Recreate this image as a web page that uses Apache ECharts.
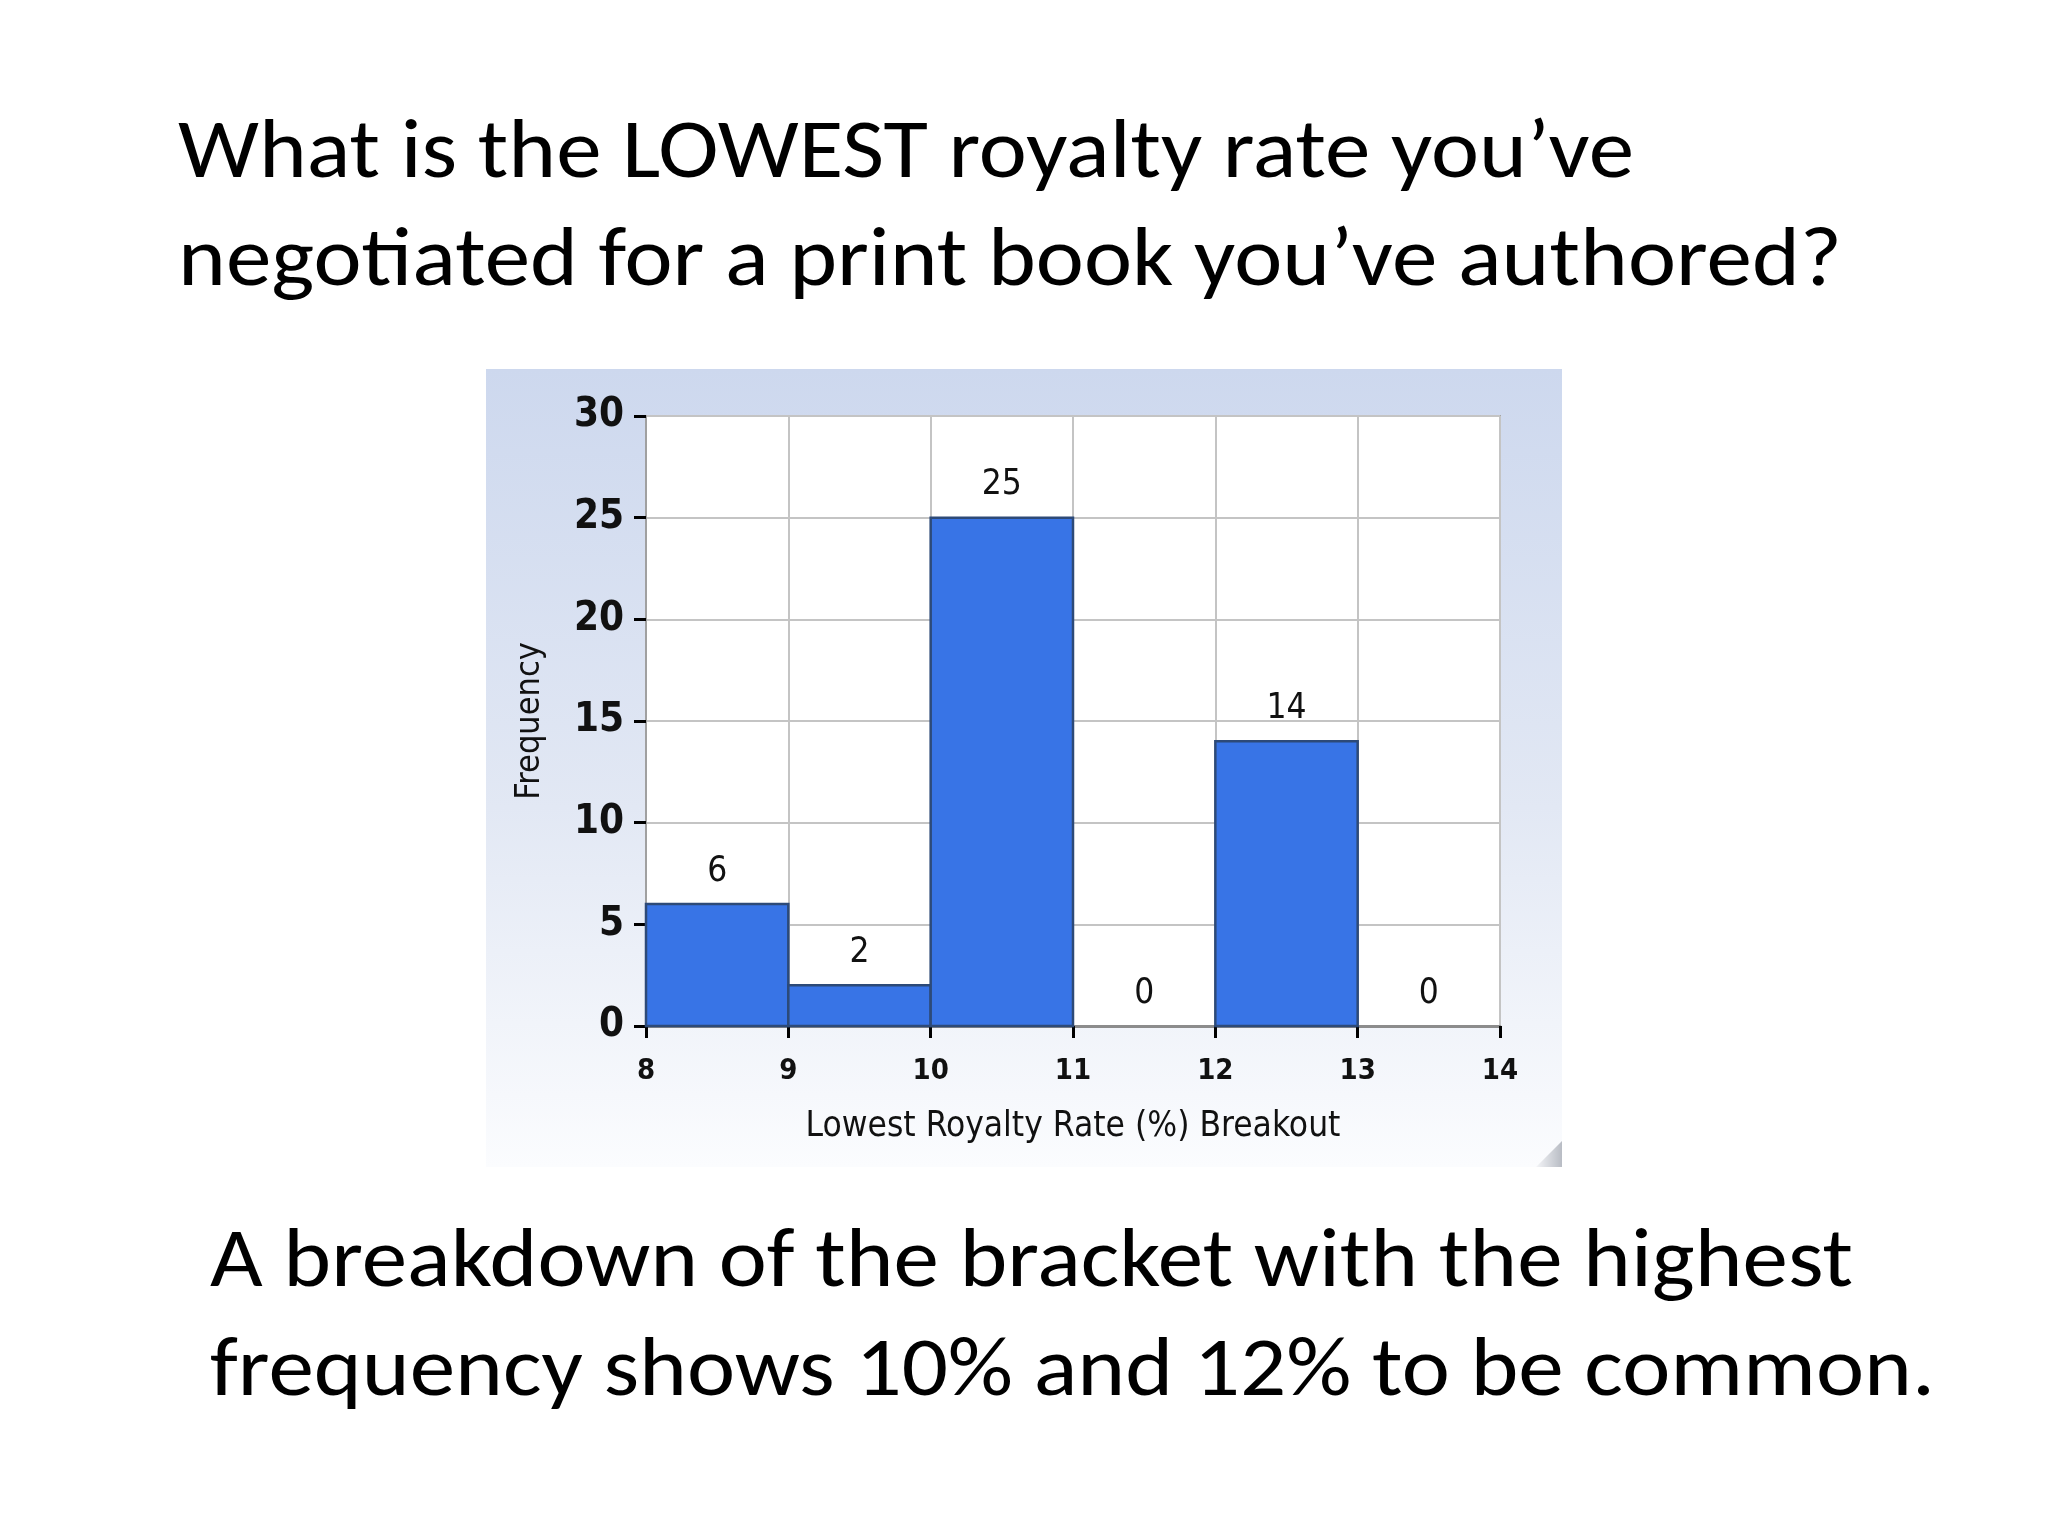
<!DOCTYPE html>
<html>
<head>
<meta charset="utf-8">
<script src="https://cdn.jsdelivr.net/npm/echarts@6/dist/echarts.min.js"></script>
<style>
html,body{margin:0;padding:0;background:#fff;}
#chart{width:2048px;height:1536px;}
</style>
</head>
<body>
<div id="chart"></div>
<script>
// ---- data ----
const titleLines = ["What is the LOWEST royalty rate you\u2019ve", "negotiated for a print book you\u2019ve authored?"];
const captionLines = ["A breakdown of the bracket with the highest", "frequency shows 10% and 12% to be common."];
const binStarts = [8, 9, 10, 11, 12, 13];
const binEnds = [9, 10, 11, 12, 13, 14];
const frequencies = [6, 2, 25, 0, 14, 0];
const xAxisName = "Lowest Royalty Rate (%) Breakout";
const yAxisName = "Frequency";

// ---- style ----
const slideFont = "Carlito, Lato, 'Open Sans', sans-serif";
const narrowFont = "'Liberation Sans Narrow', 'Arial Narrow', 'DejaVu Sans Condensed', sans-serif";
const slideSize = 84;

function fitScale(text, targetWidth) {
  const c = document.createElement('canvas').getContext('2d');
  c.font = slideSize + 'px ' + slideFont;
  const w = c.measureText(text).width;
  return w > 0 ? targetWidth / w : 1;
}

function slideText(text, x, baseline, targetWidth) {
  const s = fitScale(text, targetWidth);
  return {
    type: 'text', x: x, y: baseline, scaleX: s, z: 10,
    style: { text: text, font: slideSize + 'px ' + slideFont, fill: '#000', textAlign: 'left', textVerticalAlign: 'bottom' }
  };
}

const chart = echarts.init(document.getElementById('chart'), null, {renderer: 'canvas'});

const seriesData = binStarts.map((s, i) => [s, binEnds[i], frequencies[i]]);

const option = {
  backgroundColor: '#ffffff',
  animation: false,
  graphic: [
    {
      type: 'rect', z: -10, silent: true,
      shape: { x: 486, y: 369, width: 1076, height: 798 },
      style: { fill: new echarts.graphic.LinearGradient(0, 0, 0, 1, [
        { offset: 0, color: '#cdd8ee' },
        { offset: 0.55, color: '#e2e8f4' },
        { offset: 1, color: '#fbfcfe' }
      ]) }
    },
    {
      type: 'polygon', z: -9, silent: true,
      shape: { points: [[1562, 1141], [1562, 1167], [1536, 1167]] },
      style: { fill: new echarts.graphic.LinearGradient(0, 0, 1, 0, [
        { offset: 0, color: '#f4f5f8' },
        { offset: 1, color: '#b8bcc4' }
      ]) }
    },
    slideText(titleLines[0], 178, 198, 1456),
    slideText(titleLines[1], 178, 306, 1664),
    slideText(captionLines[0], 210, 1307, 1643),
    slideText(captionLines[1], 210, 1416, 1725)
  ],
  grid: {
    left: 646, top: 416, width: 854, height: 610,
    show: true, backgroundColor: '#ffffff', borderColor: '#a6a6a6', borderWidth: 2
  },
  xAxis: {
    type: 'value', min: 8, max: 14, interval: 1,
    name: xAxisName, nameLocation: 'middle', nameGap: 83,
    nameTextStyle: { fontFamily: narrowFont, fontSize: 35, color: '#111' },
    axisLine: { show: true, onZero: false, lineStyle: { color: '#8c8c8c', width: 3 } },
    axisTick: { show: true, length: 12, lineStyle: { color: '#000', width: 3 } },
    axisLabel: { fontFamily: narrowFont, fontWeight: 'bold', fontSize: 29, color: '#111', margin: 31 },
    splitLine: { show: true, lineStyle: { color: '#c4c4c4', width: 2 } }
  },
  yAxis: {
    type: 'value', min: 0, max: 30, interval: 5,
    name: yAxisName, nameLocation: 'middle', nameGap: 99, nameRotate: 90,
    nameTextStyle: { fontFamily: narrowFont, fontSize: 34, color: '#111' },
    axisLine: { show: true, lineStyle: { color: '#a0a0a0', width: 2 } },
    axisTick: { show: true, length: 12, lineStyle: { color: '#000', width: 3 } },
    axisLabel: { fontFamily: narrowFont, fontWeight: 'bold', fontSize: 40, color: '#111', margin: 22 },
    splitLine: { show: true, lineStyle: { color: '#c4c4c4', width: 2 } }
  },
  series: [{
    type: 'custom',
    data: seriesData,
    encode: { x: [0, 1], y: 2 },
    renderItem: function (params, api) {
      const start = api.value(0), end = api.value(1), v = api.value(2);
      const p0 = api.coord([start, v]);
      const p1 = api.coord([end, 0]);
      const children = [];
      if (v > 0) {
        children.push({
          type: 'rect',
          shape: { x: p0[0], y: p0[1], width: p1[0] - p0[0], height: p1[1] - p0[1] },
          style: { fill: '#3874e6', stroke: '#2d4a78', lineWidth: 2.5 }
        });
      }
      children.push({
        type: 'text',
        x: (p0[0] + p1[0]) / 2, y: p0[1] - 15,
        style: { text: String(v), font: '35px ' + narrowFont, fill: '#111', textAlign: 'center', textVerticalAlign: 'bottom' }
      });
      return { type: 'group', children: children };
    }
  }]
};
chart.setOption(option);
</script>
</body>
</html>
